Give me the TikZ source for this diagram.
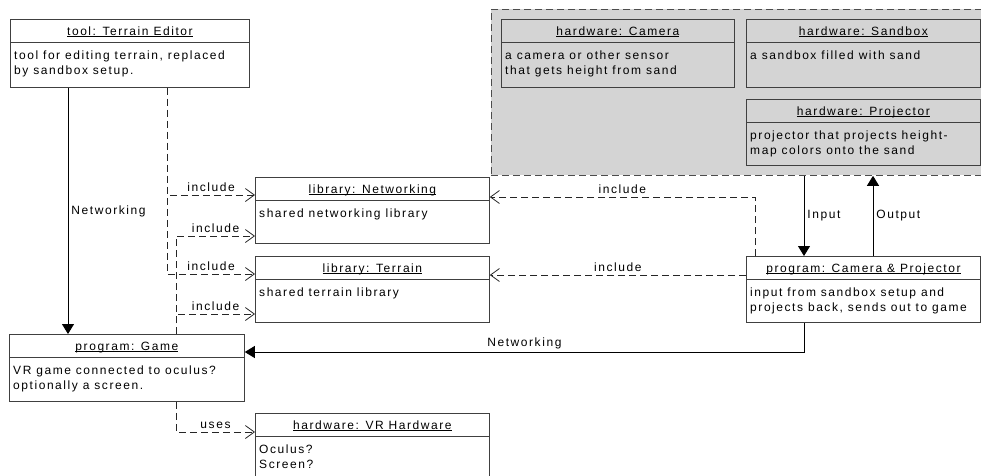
\documentclass[tikz,border=0pt]{standalone}
\usepackage{fontspec}
\setmainfont{Liberation Sans}[LetterSpace=13]
\usetikzlibrary{positioning,calc,arrows.meta}
\tikzset{
objbox/.style={draw=black!75,fill=white,line width=0.8pt,anchor=north west,inner sep=0pt},
hwbox/.style={objbox,fill=black!17},
objrule/.style={draw=black!75,line width=0.8pt},
objtitle/.style={anchor=base,inner sep=0pt,font=\fontsize{12}{15}\selectfont},
objtext/.style={anchor=north west,inner sep=0pt,align=left,font=\fontsize{12}{15}\selectfont},
hwgroup/.style={draw=black!70,fill=black!17,dash pattern=on 7pt off 4pt,line width=0.8pt,anchor=north west,inner sep=0pt},
include/.style={draw=black!85,dash pattern=on 7pt off 4pt,line width=0.8pt,-{Straight Barb[length=9pt,width=13pt]}},
flow/.style={draw=black,line width=0.9pt,-{Triangle[length=10pt,width=12pt]}},
edgelabel/.style={font=\fontsize{12}{15}\selectfont,inner sep=3pt}
}
% object box: [style]{name}{x}{y}{width}{height}{title}{text}
\newcommand{\umlobj}[8][objbox]{%
\node[#1,minimum width=#5,minimum height=#6] (#2) at (#3,#4) {};
\draw[objrule] ([yshift=-23]#2.north west) -- ([yshift=-23]#2.north east);
\node[objtitle] at ([yshift=-16]#2.north) {\underline{\smash{#7}}};
\node[objtext] at ([shift={(4,-31)}]#2.north west) {\rule{0pt}{9pt}#8};
}

\begin{document}
\begin{tikzpicture}[x=1pt,y=1pt]
\useasboundingbox (0,0) rectangle (981,-475);
\clip (0,0) rectangle (981,-475);
% hardware setup
\node[hwgroup,minimum width=520,minimum height=166] (setup) at (491,-9) {};
\umlobj[hwbox]{camera}{501}{-19}{233}{68}{hardware: Camera}{a camera or other sensor\\that gets height from sand}
\umlobj[hwbox]{sandbox}{746}{-19}{234}{68}{hardware: Sandbox}{a sandbox filled with sand}
\umlobj[hwbox]{projector}{746}{-99}{234}{66}{hardware: Projector}{projector that projects height-\\map colors onto the sand}
% programs and libraries
\umlobj{editor}{10}{-19}{239}{68}{tool: Terrain Editor}{tool for editing terrain, replaced\\by sandbox setup.}
\umlobj{netlib}{255}{-177}{234}{66}{library: Networking}{shared networking library}
\umlobj{terrlib}{255}{-256}{234}{66}{library: Terrain}{shared terrain library}
\umlobj{campro}{746}{-256}{234}{66}{program: Camera \& Projector}{input from sandbox setup and\\projects back, sends out to game}
\umlobj{game}{9}{-334}{235}{67}{program: Game}{VR game connected to oculus?\\optionally a screen.}
\umlobj{vrhw}{255}{-413}{234}{80}{hardware: VR Hardware}{Oculus?\\Screen?}
% connectors
\coordinate (ednet) at ([xshift=58]editor.south west);
\coordinate (edinc) at ([xshift=157]editor.south west);
\coordinate (gminc) at ([xshift=167]game.north west);
\coordinate (gmuse) at ([xshift=167]game.south west);
\coordinate (cpinc) at ([xshift=9]campro.north west);
\coordinate (cpin) at ([xshift=58]campro.north west);
\coordinate (cpout) at ([xshift=127]campro.north west);
\draw[flow] (ednet) -- (ednet |- game.north) node[midway,right=0pt,edgelabel]{Networking};
\draw[include] (edinc) |- ([yshift=-18]netlib.north west) node[pos=0.75,above,edgelabel]{include};
\draw[include] (edinc) |- ([yshift=-18]terrlib.north west) node[pos=0.75,above,edgelabel]{include};
\draw[include] (gminc) |- ([yshift=-59]netlib.north west) node[pos=0.75,above,edgelabel]{include};
\draw[include] (gminc) |- ([yshift=-58]terrlib.north west) node[pos=0.75,above,edgelabel]{include};
\draw[include] (gmuse) |- ([yshift=-19]vrhw.north west) node[pos=0.75,above,edgelabel]{uses};
\draw[include] (cpinc) |- ([yshift=-20]netlib.north east) node[pos=0.75,above,edgelabel]{include};
\draw[include] ([yshift=-19]campro.north west) -- ([yshift=-19]terrlib.north east) node[midway,above,edgelabel]{include};
\draw[flow] (cpin |- setup.south) -- (cpin) node[midway,right=0pt,edgelabel]{Input};
\draw[flow] (cpout) -- (cpout |- setup.south) node[midway,right=0pt,edgelabel]{Output};
\draw[flow] (cpin |- campro.south) |- ([yshift=-18]game.north east) node[pos=0.75,above,edgelabel]{Networking};
\end{tikzpicture}
\end{document}
